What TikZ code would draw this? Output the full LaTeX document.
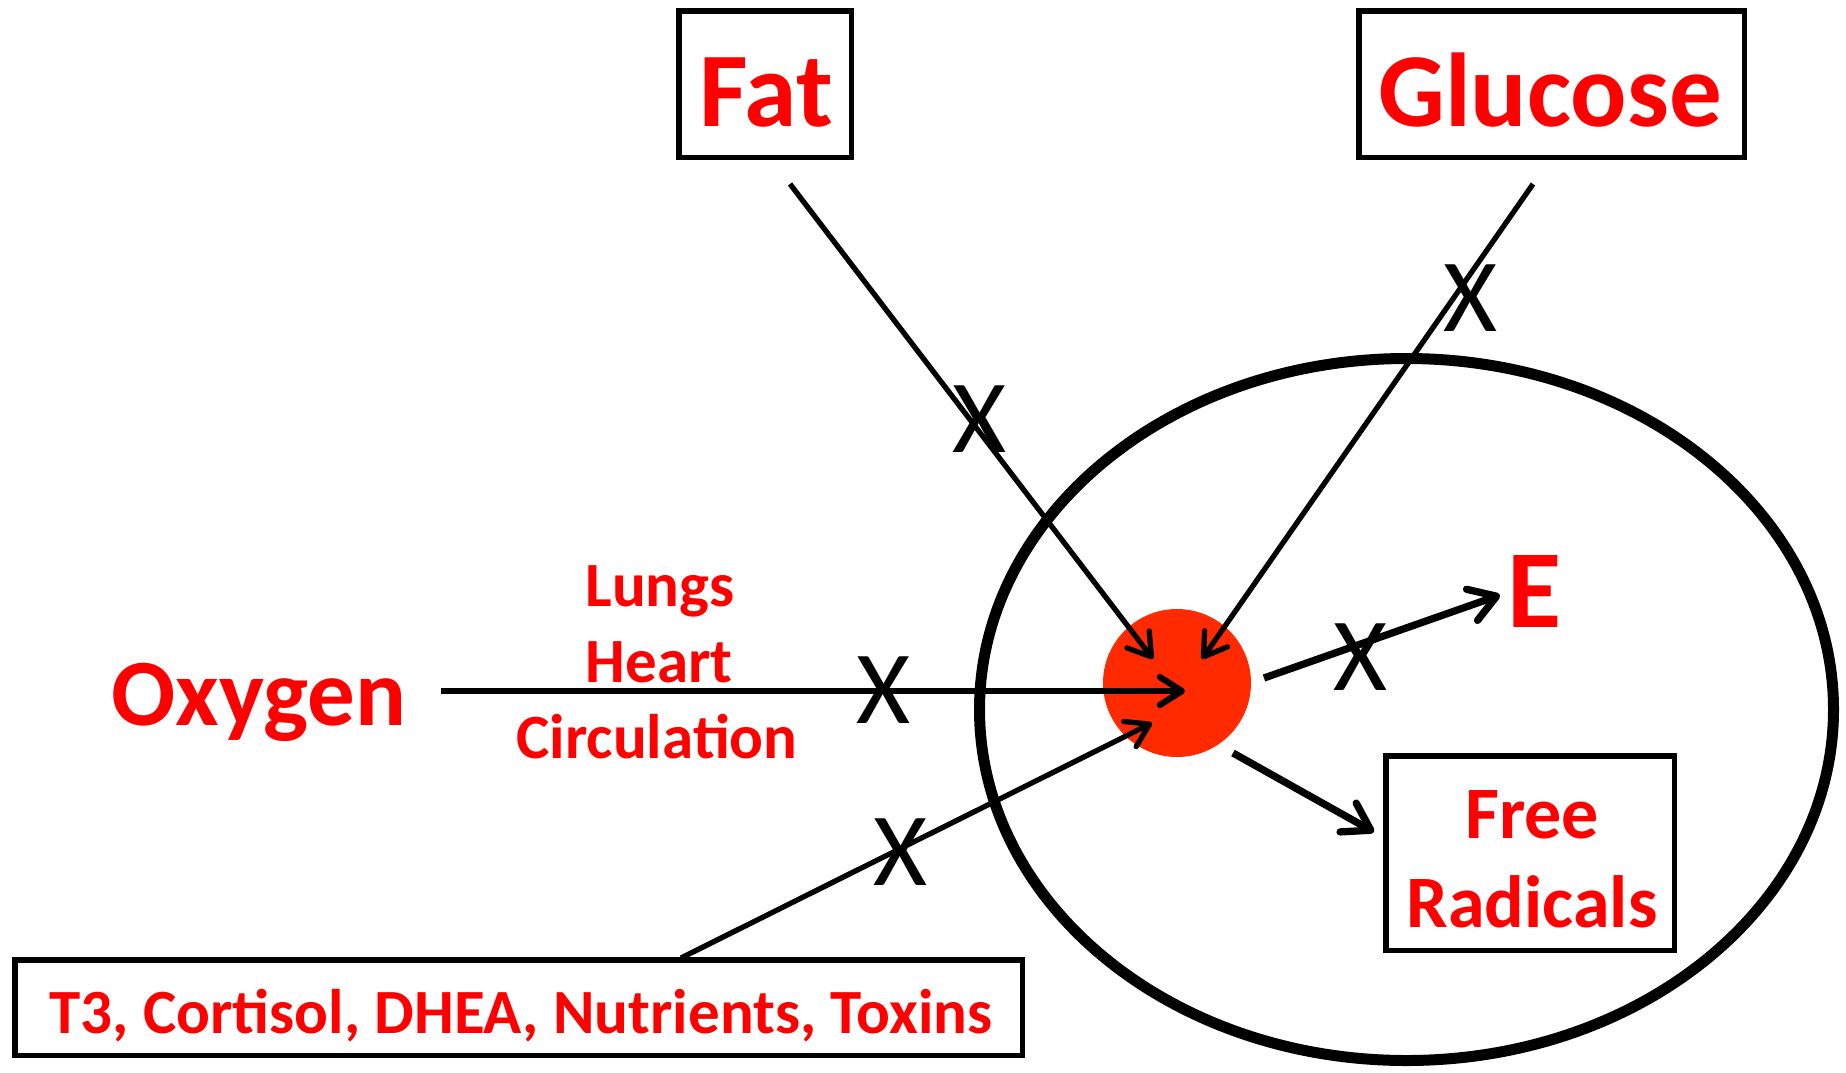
\documentclass[tikz,border=0pt]{standalone}
\usepackage{fontspec}
\setmainfont{Carlito}
\usetikzlibrary{arrows.meta,shapes.geometric}
\definecolor{txtred}{RGB}{255,0,0}
\definecolor{dotred}{RGB}{255,42,0}
\begin{document}
\begin{tikzpicture}[x=1pt,y=-1pt,
  box/.style={draw=black, line width=5.5pt, inner sep=0pt},
  lbl/.style={text=txtred, inner sep=0pt, anchor=base},
  xmark/.style={font=\fontsize{104}{104}\selectfont, inner sep=0pt},
  feed/.style={line width=5.3pt, -{Straight Barb[length=22pt,width=28pt,round]}},
  outflow/.style={line width=7.3pt, -{Straight Barb[length=26pt,width=33pt,round]}}
]
\useasboundingbox (0,0) rectangle (1846,1072);
% cell and core
\node[ellipse, draw, line width=11pt, minimum width=854pt, minimum height=702pt, inner sep=0pt] (cell) at (1406.5,709.5) {};
\node[circle, fill=dotred, minimum size=148pt, inner sep=0pt] (core) at (1177,683) {};
% boxes
\node[box, minimum width=172.5pt, minimum height=146.5pt] (fatbox) at (765,84) {};
\node[box, minimum width=385.5pt, minimum height=146.5pt] (glubox) at (1551.5,84) {};
\node[box, minimum width=288.5pt, minimum height=194.5pt] (frbox) at (1530,853) {};
\node[box, minimum width=1007.5pt, minimum height=95.5pt] (t3box) at (518.5,1007.5) {};
% labels
\node[lbl, font=\bfseries\fontsize{106}{106}\selectfont] (fat) at (766,126) {Fat};
\node[lbl, font=\bfseries\fontsize{105}{105}\selectfont] (glucose) at (1550,126) {Glucose};
\node[lbl, font=\bfseries\fontsize{95}{95}\selectfont] (oxygen) at (259,725) {Oxygen};
\node[lbl, font=\bfseries\fontsize{63}{63}\selectfont] (lungs) at (660,606) {Lungs};
\node[lbl, font=\bfseries\fontsize{63}{63}\selectfont] (heart) at (659,682) {Heart};
\node[lbl, font=\bfseries\fontsize{63}{63}\selectfont] (circ) at (657,758) {Circulation};
\node[lbl, font=\bfseries\fontsize{111}{111}\selectfont] (energy) at (1535,627) {E};
\node[lbl, font=\bfseries\fontsize{74}{74}\selectfont] (free) at (1532,838) {Free};
\node[lbl, font=\bfseries\fontsize{74}{74}\selectfont] (radicals) at (1532,927) {Radicals};
\node[lbl, font=\bfseries\fontsize{63}{63}\selectfont] (t3) at (521,1033) {T3, Cortisol, DHEA, Nutrients, Toxins};
% connector ends
\coordinate (fatstart) at (790,184);
\coordinate (fattip) at (1153,659);
\coordinate (glustart) at (1533,184);
\coordinate (glutip) at (1202,659);
\coordinate (oxstart) at (441,691);
\coordinate (oxtip) at (1185,691);
\coordinate (t3start) at (681,958);
\coordinate (t3tip) at (1152,723);
\coordinate (estart) at (1264,678);
\coordinate (etip) at (1500,595);
\coordinate (frstart) at (1233,753);
\coordinate (frtip) at (1374,832);
% connectors
\draw[feed] (fatstart) -- (fattip);
\draw[feed] (glustart) -- (glutip);
\draw[feed, line width=6.3pt] (oxstart) -- (oxtip);
\draw[feed] (t3start) -- (t3tip);
\draw[outflow] (estart) -- (etip);
\draw[outflow] (frstart) -- (frtip);
% blocks
\node[xmark] (xfat) at (979,419) {X};
\node[xmark] (xglu) at (1470,298) {X};
\node[xmark] (xox) at (883,690) {X};
\node[xmark] (xt3) at (900,852) {X};
\node[xmark] (xe) at (1360,657) {X};
\end{tikzpicture}
\end{document}
